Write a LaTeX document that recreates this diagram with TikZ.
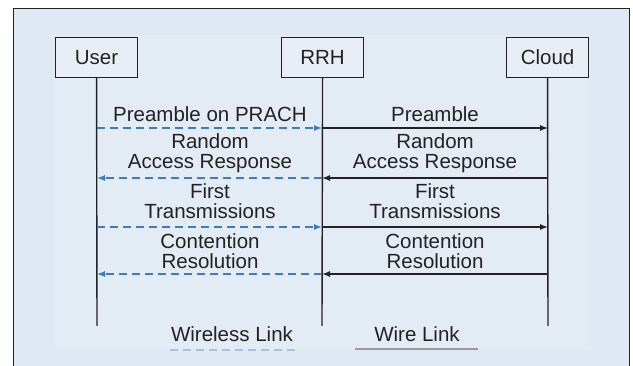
\documentclass[tikz,border=0pt]{standalone}
\usepackage{fontspec}
\setmainfont{Liberation Sans}
\usetikzlibrary{arrows.meta}
\definecolor{panel}{HTML}{DFE8F3}
\definecolor{inner}{HTML}{E3EBF5}
\definecolor{boxfill}{HTML}{E9EEF6}
\definecolor{ink}{HTML}{222222}
\definecolor{wless}{HTML}{3B7BC0}
\definecolor{wlessleg}{HTML}{A4C2E2}
\definecolor{wireleg}{HTML}{9A9A9A}
\begin{document}
\begin{tikzpicture}[x=1pt,y=-1pt,
  txt/.style={font=\fontsize{20.5}{20}\selectfont, text=ink, align=center, inner sep=0pt},
  entity/.style={txt, draw=ink, fill=boxfill, line width=1.1pt, minimum width=82pt, minimum height=40pt, anchor=north west},
  life/.style={draw=ink, line width=1.4pt},
  wired/.style={draw=ink, line width=1.4pt, -{Latex[length=8pt,width=6pt]}},
  wireless/.style={draw=wless, line width=1.4pt, dash pattern=on 8pt off 5pt, -{Latex[length=8pt,width=6pt]}}]
\useasboundingbox (0,0) rectangle (633,366);
\fill[white] (0,0) rectangle (633,366);
% outer frame and panel
\filldraw[fill=panel, draw=ink, line width=1pt] (13,370) -- (13,9) -- (629,9) -- (629,370);
\fill[inner] (55,35) rectangle (590,350);
% participants
\node[entity] (user) at (55,37) {User};
\node[entity] (rrh) at (281,37) {RRH};
\node[entity] (cloud) at (506,37) {Cloud};
% lifeline ends
\coordinate (uend) at (97,326);
\coordinate (rend) at (322,326);
\coordinate (cend) at (548,326);
\draw[life] (user.south) -- (uend);
\draw[life] (rrh.south) -- (rend);
\draw[life] (cloud.south) -- (cend);
% message rows
\coordinate (u1) at (97,128);  \coordinate (r1) at (322,128);  \coordinate (c1) at (548,128);
\coordinate (u2) at (97,178);  \coordinate (r2) at (322,178);  \coordinate (c2) at (548,178);
\coordinate (u3) at (97,227);  \coordinate (r3) at (322,227);  \coordinate (c3) at (548,227);
\coordinate (u4) at (97,274);  \coordinate (r4) at (322,274);  \coordinate (c4) at (548,274);
\draw[wireless] (u1) -- (r1);
\draw[wired] (r1) -- (c1);
\draw[wired] (c2) -- (r2);
\draw[wireless] (r2) -- (u2);
\draw[wireless] (u3) -- (r3);
\draw[wired] (r3) -- (c3);
\draw[wired] (c4) -- (r4);
\draw[wireless] (r4) -- (u4);
% labels
\node[txt] (l1) at (210,114) {Preamble on PRACH};
\node[txt] (l1r) at (435,114) {Preamble};
\node[txt] (l2) at (210,153) {Random\\Access Response};
\node[txt] (l2r) at (435,153) {Random\\Access Response};
\node[txt] (l3) at (210,201) {First\\Transmissions};
\node[txt] (l3r) at (435,201) {First\\Transmissions};
\node[txt] (l4) at (210,251) {Contention\\Resolution};
\node[txt] (l4r) at (435,251) {Contention\\Resolution};
% legend
\node[txt] (lgw) at (232,334) {Wireless Link};
\node[txt] (lgc) at (417,334) {Wire Link};
\coordinate (lw1) at (170,350); \coordinate (lw2) at (296,350);
\coordinate (lc1) at (355,349); \coordinate (lc2) at (478,349);
\draw[draw=wlessleg, line width=1.4pt, dash pattern=on 8pt off 5pt] (lw1) -- (lw2);
\draw[draw=wireleg, line width=1.4pt] (lc1) -- (lc2);
\end{tikzpicture}
\end{document}
